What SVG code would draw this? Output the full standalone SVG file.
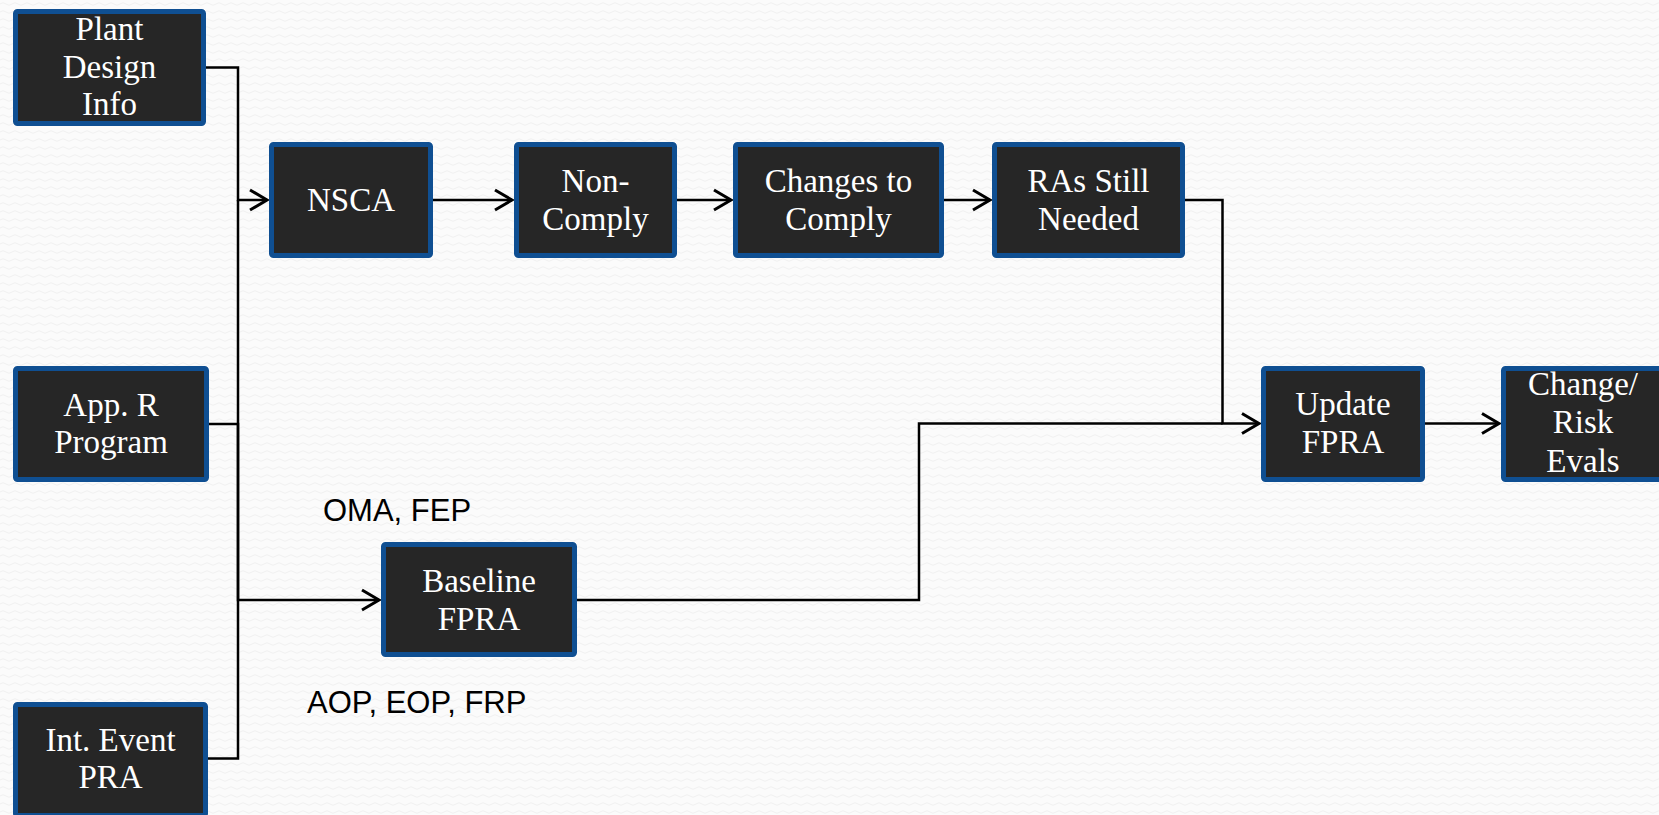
<svg xmlns="http://www.w3.org/2000/svg" width="1659" height="815" viewBox="0 0 1659 815">
<style>
.box{fill:#262626;stroke:#0F4F92;stroke-width:5}
.bt{font-family:"Liberation Serif","Times New Roman",serif;font-size:33px;fill:#ffffff;text-anchor:middle}
.lbl{font-family:"Liberation Sans",Arial,sans-serif;font-size:31px;fill:#000000}
.con{fill:none;stroke:#000000;stroke-width:2.5}
</style>
<defs>
<pattern id="bgp" width="12" height="8" patternUnits="userSpaceOnUse">
<rect width="12" height="8" fill="#fbfbfb"/>
<path d="M0 4 Q3 1.5 6 4 T12 4" fill="none" stroke="#f1f1f1" stroke-width="1"/>
</pattern>
<marker id="arr" viewBox="-22 -13 26 26" markerWidth="26" markerHeight="26" refX="0" refY="0" orient="auto" markerUnits="userSpaceOnUse">
<path d="M-17,-10 L0,0 L-17,10" fill="none" stroke="#000000" stroke-width="3"/>
</marker>
</defs>
<rect width="1659" height="815" fill="url(#bgp)"/>

<g id="connectors">
<path class="con" d="M206 67.5 H238 V200 H267" marker-end="url(#arr)"/>
<path class="con" d="M209 424 H238 V600 H379" marker-end="url(#arr)"/>
<path class="con" d="M208 758.5 H238 V200"/>
<path class="con" d="M433 200 H512" marker-end="url(#arr)"/>
<path class="con" d="M677 200 H731" marker-end="url(#arr)"/>
<path class="con" d="M944 200 H990" marker-end="url(#arr)"/>
<path class="con" d="M1185 200 H1222.5 V423.5 H1259" marker-end="url(#arr)"/>
<path class="con" d="M577 600 H919 V423.5 H1222.5"/>
<path class="con" d="M1425 423.5 H1499" marker-end="url(#arr)"/>
</g>

<g id="plant">
<rect class="box" x="15.5" y="11.5" width="188" height="112" rx="2"/>
<text class="bt" x="109.5" y="40">Plant</text>
<text class="bt" x="109.5" y="77.5">Design</text>
<text class="bt" x="109.5" y="115">Info</text>
</g>
<g id="nsca">
<rect class="box" x="271.5" y="144.5" width="159" height="111" rx="2"/>
<text class="bt" x="351" y="211">NSCA</text>
</g>
<g id="noncomply">
<rect class="box" x="516.5" y="144.5" width="158" height="111" rx="2"/>
<text class="bt" x="595.5" y="192">Non-</text>
<text class="bt" x="595.5" y="230">Comply</text>
</g>
<g id="changes">
<rect class="box" x="735.5" y="144.5" width="206" height="111" rx="2"/>
<text class="bt" x="838.5" y="192">Changes to</text>
<text class="bt" x="838.5" y="230">Comply</text>
</g>
<g id="ras">
<rect class="box" x="994.5" y="144.5" width="188" height="111" rx="2"/>
<text class="bt" x="1088.5" y="192">RAs Still</text>
<text class="bt" x="1088.5" y="230">Needed</text>
</g>
<g id="appr">
<rect class="box" x="15.5" y="368.5" width="191" height="111" rx="2"/>
<text class="bt" x="111" y="416">App. R</text>
<text class="bt" x="111" y="453">Program</text>
</g>
<g id="intevent">
<rect class="box" x="15.5" y="704.5" width="190" height="111" rx="2"/>
<text class="bt" x="110.5" y="751">Int. Event</text>
<text class="bt" x="110.5" y="788">PRA</text>
</g>
<g id="baseline">
<rect class="box" x="383.5" y="544.5" width="191" height="110" rx="2"/>
<text class="bt" x="479" y="592">Baseline</text>
<text class="bt" x="479" y="629.5">FPRA</text>
</g>
<g id="update">
<rect class="box" x="1263.5" y="368.5" width="159" height="111" rx="2"/>
<text class="bt" x="1343" y="415">Update</text>
<text class="bt" x="1343" y="453">FPRA</text>
</g>
<g id="changerisk">
<rect class="box" x="1503.5" y="368.5" width="159" height="111" rx="2"/>
<text class="bt" x="1583" y="395">Change/</text>
<text class="bt" x="1583" y="433">Risk</text>
<text class="bt" x="1583" y="471.5">Evals</text>
</g>

<g id="labels">
<text class="lbl" x="323" y="520.5">OMA, FEP</text>
<text class="lbl" x="307" y="713">AOP, EOP, FRP</text>
</g>
</svg>
